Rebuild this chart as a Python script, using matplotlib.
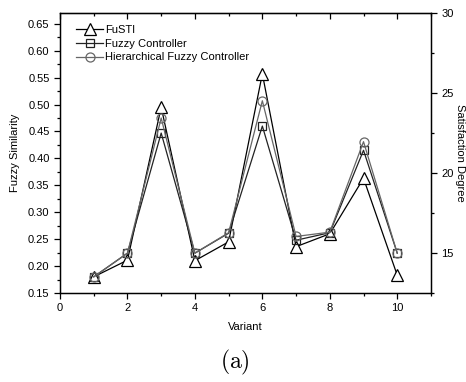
import matplotlib.pyplot as plt
from matplotlib.ticker import MultipleLocator

plt.rcParams['font.family'] = ['Liberation Sans', 'DejaVu Sans']
plt.rcParams['mathtext.fontset'] = 'cm'

variants = [1, 2, 3, 4, 5, 6, 7, 8, 9, 10]
fusti = [0.180, 0.211, 0.495, 0.210, 0.245, 0.557, 0.236, 0.260, 0.363, 0.183]
fuzzy_ctrl = [0.180, 0.224, 0.447, 0.224, 0.261, 0.460, 0.248, 0.262, 0.415, 0.224]
hier_ctrl = [0.180, 0.224, 0.475, 0.224, 0.262, 0.507, 0.255, 0.263, 0.431, 0.224]

fig = plt.figure(figsize=(4.66, 3.82), dpi=100)
ax = fig.add_axes([0.1288, 0.233, 0.796, 0.733])

ax.plot(variants, fusti, color='black', lw=0.9, marker='^', ms=8,
        mfc='white', mec='black', mew=0.9, label='FuSTI')
ax.plot(variants, fuzzy_ctrl, color='#222222', lw=0.9, marker='s', ms=6,
        mfc='none', mec='#222222', mew=0.9, label='Fuzzy Controller')
ax.plot(variants, hier_ctrl, color='#666666', lw=0.9, marker='o', ms=6.5,
        mfc='none', mec='#666666', mew=0.9, label='Hierarchical Fuzzy Controller')

ax.set_xlim(0, 11)
ax.set_ylim(0.15, 0.67)
ax.xaxis.set_major_locator(MultipleLocator(2))
ax.xaxis.set_minor_locator(MultipleLocator(1))
ax.yaxis.set_major_locator(MultipleLocator(0.05))
ax.yaxis.set_minor_locator(MultipleLocator(0.025))
ax.yaxis.set_major_formatter(plt.FuncFormatter(lambda v, p: f'{v:.2f}'))
ax.tick_params(which='both', direction='out', labelsize=8, width=0.9)
ax.tick_params(which='major', length=4)
ax.tick_params(which='minor', length=2.5)
ax.tick_params(axis='x', which='both', top=False)
for s in ax.spines.values():
    s.set_linewidth(1.0)

ax.set_xlabel('Variant', fontsize=8, labelpad=6)
ax.set_ylabel('Fuzzy Similarity', fontsize=8, labelpad=6)

# top ticks pointing in
top = ax.secondary_xaxis('top')
top.xaxis.set_major_locator(MultipleLocator(2))
top.xaxis.set_minor_locator(MultipleLocator(1))
top.tick_params(which='both', direction='in', labeltop=False, width=0.9)
top.tick_params(which='major', length=4)
top.tick_params(which='minor', length=2.5)

ax2 = ax.twinx()
ax2.set_ylim(12.5, 30)
ax2.yaxis.set_major_locator(MultipleLocator(5))
ax2.yaxis.set_minor_locator(MultipleLocator(2.5))
ax2.tick_params(which='both', direction='out', labelsize=8, width=0.9)
ax2.tick_params(which='major', length=4)
ax2.tick_params(which='minor', length=2.5)
ax2.set_ylabel('Satisfaction Degree', fontsize=8, rotation=270, va='center')
ax2.yaxis.set_label_coords(1.078, 0.5)

ax.legend(loc='upper left', frameon=False, fontsize=8, handlelength=2.4,
          handletextpad=0.2, labelspacing=0.35, borderaxespad=0.4,
          bbox_to_anchor=(0.02, 0.99))

fig.text(0.504, 0.05, r'$\mathrm{(a)}$', ha='center', va='center', fontsize=17)

fig.savefig('out.png', dpi=100)
